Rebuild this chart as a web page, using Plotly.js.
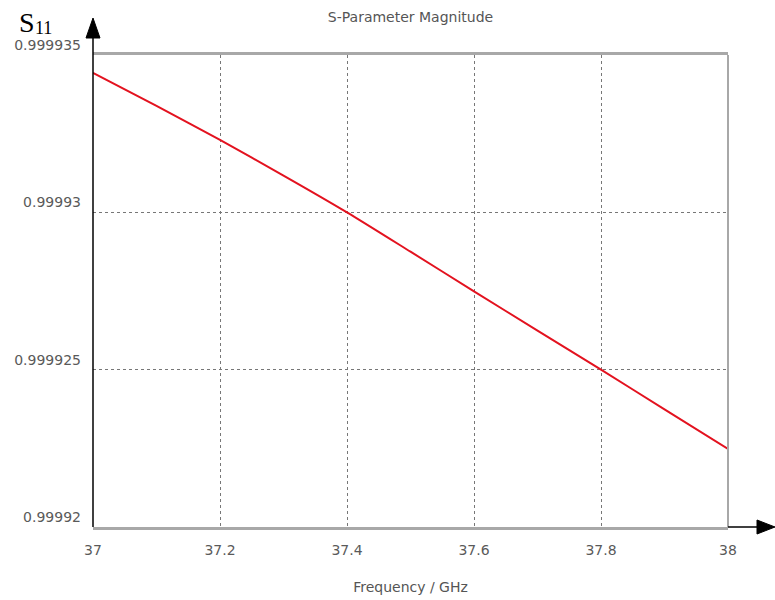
<!DOCTYPE html>
<html>
<head>
<meta charset="utf-8">
<script src="https://cdn.plot.ly/plotly-3.0.1.min.js"></script>
<style>html,body{margin:0;padding:0;background:#fff;}#chart{width:775px;height:600px;}</style>
</head>
<body>
<div id="chart"></div>
<script>
// Data
const frequencyGHz = [37.0, 37.1, 37.2, 37.3, 37.4, 37.5, 37.6, 37.7, 37.8, 37.9, 38.0];
const s11Magnitude = [0.99993443, 0.99993338, 0.99993230, 0.99993117, 0.99993000, 0.99992875,
                      0.99992749, 0.99992624, 0.99992500, 0.99992374, 0.99992248];
const xTickValues = [37, 37.2, 37.4, 37.6, 37.8, 38];
const xTickLabels = ["37", "37.2", "37.4", "37.6", "37.8", "38"];
const yTickValues = [0.99992, 0.999925, 0.99993, 0.999935];
const yTickLabels = ["0.99992", "0.999925", "0.99993", "0.999935"];

const W = 775, H = 600;
const L = 93, R = 47, T = 55, B = 73;
const pw = W - L - R, ph = H - T - B;
const px = v => (v - L) / pw;          // pixel x -> paper x
const py = v => (H - B - v) / ph;      // pixel y -> paper y

const trace = {
  x: frequencyGHz, y: s11Magnitude, type: 'scatter', mode: 'lines',
  line: {color: '#e3121f', width: 2, shape: 'spline', smoothing: 0.6}, hoverinfo: 'skip'
};

const tickFont = {family: 'DejaVu Sans, sans-serif', size: 14, color: '#5a5a5a'};
const serif = 'Liberation Serif, Times New Roman, serif';

const layout = {
  width: W, height: H,
  margin: {l: L, r: R, t: T, b: B, pad: 0},
  paper_bgcolor: '#fff', plot_bgcolor: '#fff',
  showlegend: false,
  title: {text: 'S-Parameter Magnitude', font: {family: 'DejaVu Sans, sans-serif', size: 14, color: '#555'},
          xref: 'paper', x: 0.5, xanchor: 'center', yref: 'container', y: 1 - 17 / H, yanchor: 'middle'},
  xaxis: {
    range: [37, 38], tickvals: xTickValues, ticktext: xTickLabels,
    showgrid: true, gridcolor: '#777', griddash: 'dot', gridwidth: 1,
    zeroline: false, showline: true, linecolor: '#a8a8a8', linewidth: 3, mirror: true,
    ticks: '', tickfont: tickFont, ticklabelstandoff: 8,
    title: {text: 'Frequency / GHz', font: {family: 'DejaVu Sans, sans-serif', size: 14, color: '#555'}, standoff: 26},
    automargin: false, fixedrange: true
  },
  yaxis: {
    range: [0.99992, 0.999935], tickvals: yTickValues, ticktext: yTickLabels,
    showgrid: true, gridcolor: '#777', griddash: 'dot', gridwidth: 1,
    zeroline: false, showline: false,
    ticks: '', tickfont: tickFont, ticklabelposition: 'outside top', ticklabelstandoff: 11,
    automargin: false, fixedrange: true
  },
  shapes: [
    // right border (gray)
    {type: 'line', xref: 'paper', yref: 'paper', x0: 1, x1: 1, y0: 0, y1: 1, line: {color: '#a8a8a8', width: 2}},
    // left axis black line with arrow
    {type: 'line', xref: 'paper', yref: 'paper', x0: 0, x1: 0, y0: 0, y1: py(36), line: {color: '#000', width: 1.5}},
    {type: 'path', xref: 'paper', yref: 'paper',
     path: `M ${px(93)} ${py(18)} L ${px(86)} ${py(38)} L ${px(100)} ${py(38)} Z`,
     fillcolor: '#000', line: {color: '#000', width: 1}},
    // bottom arrow extension
    {type: 'line', xref: 'paper', yref: 'paper', x0: 1, x1: px(760), y0: 0, y1: 0, line: {color: '#000', width: 1.5}},
    {type: 'path', xref: 'paper', yref: 'paper',
     path: `M ${px(775)} ${py(527)} L ${px(757)} ${py(520)} L ${px(757)} ${py(534)} Z`,
     fillcolor: '#000', line: {color: '#000', width: 1}}
  ],
  annotations: [
    {text: 'S', xref: 'paper', yref: 'paper', x: px(17), y: py(22),
     xanchor: 'left', yanchor: 'middle', showarrow: false,
     font: {family: serif, size: 28, color: '#000'}},
    {text: '11', xref: 'paper', yref: 'paper', x: px(33), y: py(28),
     xanchor: 'left', yanchor: 'middle', showarrow: false,
     font: {family: serif, size: 18, color: '#000'}}
  ]
};

Plotly.newPlot('chart', [trace], layout, {staticPlot: true, displayModeBar: false});
</script>
</body>
</html>
